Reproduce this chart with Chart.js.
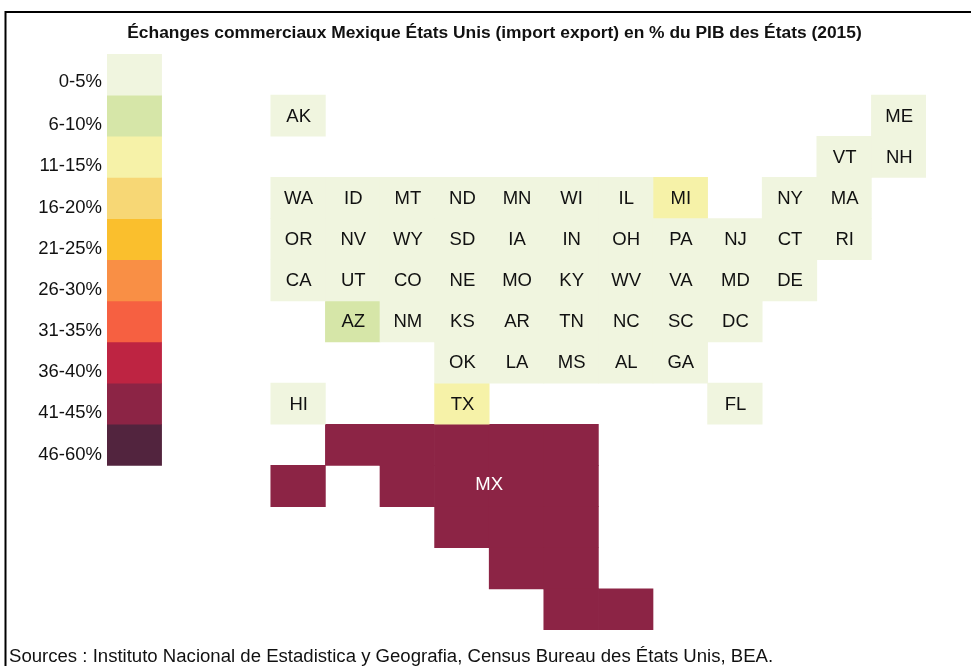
<!DOCTYPE html>
<html lang="fr">
<head>
<meta charset="utf-8">
<title>Échanges commerciaux Mexique États Unis</title>
<script src="https://cdn.jsdelivr.net/npm/chart.js@4"></script>
<style>
html,body{margin:0;padding:0;background:#fff;overflow:hidden}
canvas{display:block}
</style>
</head>
<body>
<canvas id="c" width="971" height="666"></canvas>
<script>
const titleText = "Échanges commerciaux Mexique États Unis (import export) en % du PIB des États (2015)";
const sourceText = "Sources : Instituto Nacional de Estadistica y Geografia, Census Bureau des États Unis, BEA.";
const bucketLabels = ["0-5%","6-10%","11-15%","16-20%","21-25%","26-30%","31-35%","36-40%","41-45%","46-60%"];
const bucketColors = ["#f0f5df","#d6e6a8","#f6f2a8","#f7d775","#fabf2d","#f98f45","#f66041","#be2442","#8c2445","#52243e"];
const bucketTickRows = [0.68,1.73,2.73,3.73,4.73,5.73,6.73,7.73,8.73,9.75];
const columnIds = [0,1,2,3,4,5,6,7,8,9,10,11,12,13,14];
const rowCount = 14;
const stateCodes = ["AK","ME","VT","NH",
 "WA","ID","MT","ND","MN","WI","IL","MI","NY","MA",
 "OR","NV","WY","SD","IA","IN","OH","PA","NJ","CT","RI",
 "CA","UT","CO","NE","MO","KY","WV","VA","MD","DE",
 "AZ","NM","KS","AR","TN","NC","SC","DC",
 "OK","LA","MS","AL","GA",
 "HI","TX","FL"];
const stateCols = [3,14,13,14,
 3,4,5,6,7,8,9,10,12,13,
 3,4,5,6,7,8,9,10,11,12,13,
 3,4,5,6,7,8,9,10,11,12,
 4,5,6,7,8,9,10,11,
 6,7,8,9,10,
 3,6,11];
const stateRows = [1,1,2,2,
 3,3,3,3,3,3,3,3,3,3,
 4,4,4,4,4,4,4,4,4,4,4,
 5,5,5,5,5,5,5,5,5,5,
 6,6,6,6,6,6,6,6,
 7,7,7,7,7,
 8,8,8];
const stateBuckets = [0,0,0,0,
 0,0,0,0,0,0,0,2,0,0,
 0,0,0,0,0,0,0,0,0,0,0,
 0,0,0,0,0,0,0,0,0,0,
 1,0,0,0,0,0,0,0,
 0,0,0,0,0,
 0,2,0];
const mexicoCode = "MX";
const mexicoBucket = 8;
const mexicoCols = [4,5,6,7,8, 3,5,6,7,8, 6,7,8, 7,8, 8,9];
const mexicoRows = [9,9,9,9,9, 10,10,10,10,10, 11,11,11, 12,12, 13,13];
const mexicoLabelCol = 6.5;
const mexicoLabelRow = 10.48;

const fontFamily = "'Liberation Sans', Arial, sans-serif";
const cellFont = "18.5px " + fontFamily;
const sourceFont = "18.58px " + fontFamily;

const datasets = bucketLabels.map((label, b) => {
  const data = [{x: 0, y: [b, b + 1]}];
  stateCodes.forEach((code, i) => {
    if (stateBuckets[i] === b) data.push({x: stateCols[i], y: [stateRows[i], stateRows[i] + 1], code});
  });
  if (b === mexicoBucket) mexicoCols.forEach((c, i) => data.push({x: c, y: [mexicoRows[i], mexicoRows[i] + 1], code: mexicoCode}));
  return {label, data, backgroundColor: bucketColors[b], borderWidth: 0, borderSkipped: false,
          grouped: false, barPercentage: 1, categoryPercentage: 1};
});

const decorations = {
  id: 'decorations',
  beforeDraw(chart) {
    const ctx = chart.ctx;
    ctx.save();
    ctx.strokeStyle = '#000';
    ctx.lineWidth = 2;
    ctx.beginPath();
    ctx.moveTo(5.5, 666);
    ctx.lineTo(5.5, 12);
    ctx.lineTo(971, 12);
    ctx.stroke();
    ctx.restore();
  },
  afterDraw(chart) {
    const ctx = chart.ctx, xs = chart.scales.x, ys = chart.scales.y;
    ctx.save();
    ctx.font = cellFont;
    ctx.textAlign = 'center';
    ctx.textBaseline = 'middle';
    ctx.fillStyle = '#111';
    stateCodes.forEach((code, i) => {
      ctx.fillText(code, xs.getPixelForValue(stateCols[i] + 0.01), ys.getPixelForValue(stateRows[i] + 0.52));
    });
    ctx.fillStyle = '#fff';
    ctx.fillText(mexicoCode, xs.getPixelForValue(mexicoLabelCol), ys.getPixelForValue(mexicoLabelRow));
    ctx.font = sourceFont;
    ctx.textAlign = 'left';
    ctx.textBaseline = 'alphabetic';
    ctx.fillStyle = '#111';
    ctx.fillText(sourceText, 9, 662);
    ctx.restore();
  }
};

new Chart(document.getElementById('c'), {
  type: 'bar',
  data: {labels: columnIds, datasets},
  plugins: [decorations],
  options: {
    responsive: false,
    animation: false,
    layout: {padding: {top: 23, bottom: 36, left: 18, right: 0}},
    plugins: {
      legend: {display: false},
      tooltip: {enabled: false},
      title: {
        display: true,
        text: titleText,
        color: '#111',
        font: {family: fontFamily, size: 17.4, weight: 'bold', lineHeight: 1.2},
        padding: {top: 0, bottom: 10.12}
      }
    },
    scales: {
      x: {type: 'category', display: false, grid: {display: false}},
      y: {
        type: 'linear', reverse: true, min: 0, max: rowCount,
        grid: {display: false, drawTicks: false},
        border: {display: false},
        afterFit(scale) { scale.width = 89; },
        afterBuildTicks(scale) { scale.ticks = bucketTickRows.map(v => ({value: v})); },
        ticks: {
          autoSkip: false,
          padding: 5,
          color: '#111',
          font: {family: fontFamily, size: 18.5},
          callback: (v, i) => bucketLabels[i]
        }
      },
      rightMargin: {
        type: 'linear', position: 'right',
        grid: {display: false, drawTicks: false},
        border: {display: false},
        ticks: {display: false},
        afterFit(scale) { scale.width = 45; }
      }
    }
  }
});
</script>
</body>
</html>
